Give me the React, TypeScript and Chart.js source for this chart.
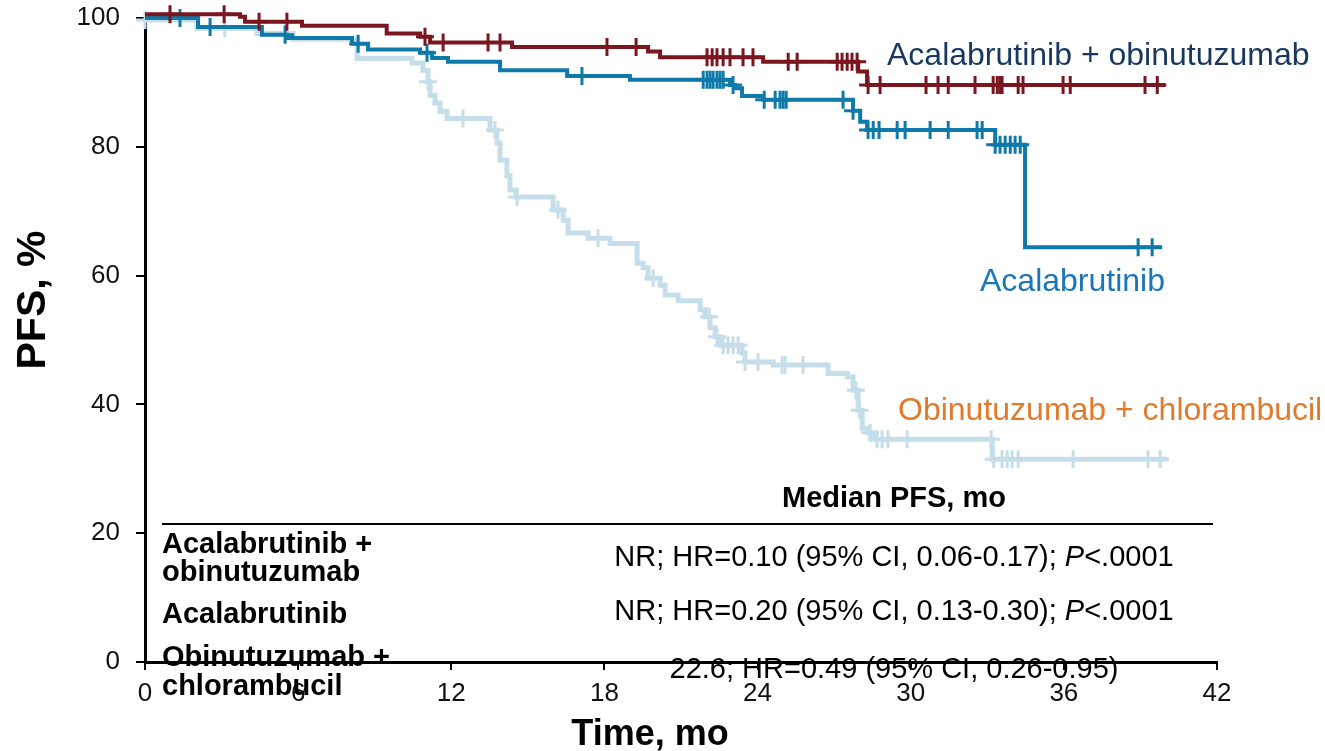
import React, { useEffect, useRef } from 'react';
import { Chart, registerables } from 'chart.js';

Chart.register(...registerables);

const FONT = '"Liberation Sans", Arial, Helvetica, sans-serif';

// Acalabrutinib + obinutuzumab (step times in months, PFS %)
const acoTimes = [0, 3.72, 3.92, 6.15, 9.47, 10.78, 11.17, 14.38, 19.71, 20.18, 24.22, 27.94, 28.29, 39.97];
const acoSurv = [100.6, 100.2, 99.4, 98.8, 97.6, 97.1, 96.2, 95.5, 94.8, 93.9, 93.2, 91.7, 89.6, 89.6];
const acoCensor = [0.98, 3.1, 4.47, 5.56, 10.97, 11.68, 13.44, 13.91, 18.1, 19.24, 22.02, 22.22, 22.41, 22.65, 22.92, 23.43, 23.82, 25.2, 25.55, 27.12, 27.31, 27.51, 27.7, 27.9, 28.33, 28.8, 30.6, 31.07, 31.47, 32.52, 33.23, 33.39, 33.5, 33.58, 34.21, 34.4, 35.97, 36.25, 39.18, 39.66];

// Acalabrutinib
const acaTimes = [0, 2.08, 4.58, 5.56, 8.11, 8.74, 10.78, 11.25, 11.87, 13.91, 16.54, 19.0, 22.92, 23.12, 23.39, 24.22, 27.74, 28.02, 28.29, 33.31, 34.48, 39.85];
const acaSurv = [100, 98.6, 97.4, 96.9, 96.0, 95.1, 94.6, 93.8, 93.2, 91.9, 91.0, 90.4, 89.6, 89.1, 87.9, 87.3, 85.6, 83.9, 82.6, 80.3, 64.4, 64.4];
const acaCensor = [1.37, 2.55, 5.49, 8.35, 11.05, 17.12, 21.87, 22.02, 22.14, 22.26, 22.41, 22.53, 22.65, 23.04, 24.26, 24.69, 24.88, 25.0, 25.12, 27.35, 27.74, 28.33, 28.53, 28.76, 29.47, 29.78, 30.76, 31.47, 32.6, 32.8, 33.31, 33.5, 33.7, 33.9, 34.09, 34.29, 38.91, 39.46];

// Obinutuzumab + chlorambucil
const ocTimes = [0, 2.04, 4.39, 5.8, 8.31, 10.46, 10.89, 11.09, 11.17, 11.36, 11.56, 11.83, 13.52, 13.79, 13.91, 14.18, 14.3, 14.54, 15.99, 16.38, 16.58, 17.36, 18.22, 19.28, 19.51, 19.71, 20.18, 20.38, 20.89, 21.75, 21.94, 22.14, 22.34, 22.53, 23.39, 23.51, 24.61, 26.76, 27.51, 27.74, 27.94, 28.1, 28.33, 28.53, 33.19, 40.05];
const ocSurv = [99.7, 98.4, 97.6, 96.7, 93.7, 93.0, 91.9, 90.1, 88.0, 86.8, 85.5, 84.4, 82.6, 80.6, 77.9, 75.5, 73.3, 72.2, 70.2, 68.6, 66.6, 65.8, 65.0, 61.9, 61.2, 59.6, 58.5, 57.0, 56.1, 54.7, 53.6, 51.9, 50.5, 49.2, 48.0, 46.6, 46.1, 44.8, 44.3, 42.2, 39.1, 36.3, 35.6, 34.6, 31.5, 31.5];
const ocCensor = [0.0, 3.13, 5.49, 11.09, 12.46, 13.71, 14.58, 16.18, 17.75, 19.91, 22.1, 22.41, 22.65, 22.84, 23.04, 23.24, 23.51, 24.02, 24.96, 25.08, 25.78, 27.85, 28.0, 28.41, 28.68, 28.88, 29.11, 29.86, 33.15, 33.25, 33.58, 33.78, 33.97, 34.21, 36.36, 39.3, 39.77];

const xTicks = [0, 6, 12, 18, 24, 30, 36, 42];
const yTicks = [0, 20, 40, 60, 80, 100];

const seriesNames = ['Acalabrutinib + obinutuzumab', 'Acalabrutinib', 'Obinutuzumab + chlorambucil'];
const tableHeader = 'Median PFS, mo';
const tableLeft = [['Acalabrutinib +', 'obinutuzumab'], ['Acalabrutinib'], ['Obinutuzumab +', 'chlorambucil']];
const tableRight = [
  ['NR; HR=0.10 (95% CI, 0.06-0.17); ', 'P', '<.0001'],
  ['NR; HR=0.20 (95% CI, 0.13-0.30); ', 'P', '<.0001'],
  ['22.6; HR=0.49 (95% CI, 0.26-0.95)', '', ''],
];

const RED = '#7b1621';
const BLUE = '#0f7aaa';
const LIGHT = '#c5deea';

function stepValue(times: number[], surv: number[], t: number) {
  let v = surv[0];
  for (let i = 0; i < times.length; i++) {
    if (times[i] <= t + 1e-9) v = surv[i];
    else break;
  }
  return v;
}

function curve(times: number[], surv: number[]) {
  return times.map((t, i) => ({ x: t, y: surv[i] }));
}
function censors(times: number[], surv: number[], c: number[]) {
  return c.map((t) => ({ x: t, y: stepValue(times, surv, t) }));
}

const textPlugin = {
  id: 'kmTexts',
  afterDraw(chart: any) {
    const ctx = chart.ctx as CanvasRenderingContext2D;
    ctx.save();
    ctx.textBaseline = 'alphabetic';

    // Curve labels
    ctx.font = `32px ${FONT}`;
    ctx.textAlign = 'left';
    ctx.fillStyle = '#17375e';
    ctx.fillText(seriesNames[0], 887, 65);
    ctx.fillStyle = '#1a76b6';
    ctx.fillText(seriesNames[1], 980, 291);
    ctx.fillStyle = '#e07a2c';
    ctx.fillText(seriesNames[2], 898, 420);

    // Axis titles
    ctx.fillStyle = '#000';
    ctx.save();
    ctx.translate(45, 300);
    ctx.rotate(-Math.PI / 2);
    ctx.font = `bold 41px ${FONT}`;
    ctx.textAlign = 'center';
    ctx.fillText('PFS, %', 0, 0);
    ctx.restore();

    ctx.font = `bold 36px ${FONT}`;
    ctx.textAlign = 'center';
    ctx.fillText('Time, mo', 650, 745);

    // Table
    ctx.font = `bold 29px ${FONT}`;
    ctx.textAlign = 'center';
    ctx.fillText(tableHeader, 894, 507);

    ctx.strokeStyle = '#000';
    ctx.lineWidth = 2;
    ctx.beginPath();
    ctx.moveTo(162, 524);
    ctx.lineTo(1213, 524);
    ctx.stroke();

    ctx.textAlign = 'left';
    const leftBase = [[553, 581], [623], [666, 695]];
    tableLeft.forEach((lines, i) => {
      lines.forEach((ln, j) => ctx.fillText(ln, 162, leftBase[i][j]));
    });

    const rightBase = [566, 620, 678];
    tableRight.forEach((segs, i) => {
      const fonts = [`29px ${FONT}`, `italic 29px ${FONT}`, `29px ${FONT}`];
      let total = 0;
      const widths = segs.map((s, k) => {
        ctx.font = fonts[k];
        const w = ctx.measureText(s).width;
        total += w;
        return w;
      });
      let x = 894 - total / 2;
      segs.forEach((s, k) => {
        ctx.font = fonts[k];
        ctx.fillText(s, x, rightBase[i]);
        x += widths[k];
      });
    });

    ctx.restore();
  },
};

export default function App() {
  const ref = useRef<HTMLCanvasElement | null>(null);

  useEffect(() => {
    if (!ref.current) return;
    const lineDs = (label: string, data: any[], color: string, width: number, order: number) => ({
      type: 'line',
      label,
      data,
      borderColor: color,
      backgroundColor: color,
      borderWidth: width,
      stepped: 'before',
      pointRadius: 0,
      fill: false,
      clip: false,
      order,
    });
    const censorDs = (label: string, data: any[], color: string, width: number, order: number) => ({
      type: 'line',
      label,
      data,
      showLine: false,
      pointStyle: 'cross',
      pointRadius: 9,
      pointHoverRadius: 9,
      pointBorderWidth: width,
      pointBorderColor: color,
      pointBackgroundColor: color,
      borderColor: color,
      clip: false,
      order,
    });

    const chart = new Chart(ref.current, {
      type: 'line',
      data: {
        datasets: [
          lineDs(seriesNames[2], curve(ocTimes, ocSurv), LIGHT, 5, 6),
          censorDs(seriesNames[2] + ' censored', censors(ocTimes, ocSurv, ocCensor), LIGHT, 3, 5),
          lineDs(seriesNames[1], curve(acaTimes, acaSurv), BLUE, 4, 4),
          censorDs(seriesNames[1] + ' censored', censors(acaTimes, acaSurv, acaCensor), BLUE, 3, 3),
          lineDs(seriesNames[0], curve(acoTimes, acoSurv), RED, 4, 2),
          censorDs(seriesNames[0] + ' censored', censors(acoTimes, acoSurv, acoCensor), RED, 3, 1),
        ] as any,
      },
      options: {
        responsive: false,
        animation: false,
        devicePixelRatio: 1,
        layout: { padding: { top: 18, right: 108, left: 0, bottom: 0 } },
        plugins: {
          legend: { display: false },
          tooltip: { enabled: false },
        },
        scales: {
          x: {
            type: 'linear',
            min: 0,
            max: 42,
            afterFit: (s: any) => {
              s.height = 89;
              s.paddingLeft = 0;
              s.paddingRight = 0;
            },
            afterBuildTicks: (s: any) => {
              s.ticks = xTicks.map((v) => ({ value: v }));
            },
            ticks: {
              font: { family: FONT, size: 26 },
              color: '#111',
              padding: 8,
              maxRotation: 0,
              autoSkip: false,
            },
            grid: {
              display: true,
              drawOnChartArea: false,
              drawTicks: true,
              tickLength: 8,
              color: '#000',
              lineWidth: 2,
            },
            border: { display: true, color: '#000', width: 3 },
          },
          y: {
            type: 'linear',
            min: 0,
            max: 100,
            afterFit: (s: any) => {
              s.width = 145;
              s.paddingTop = 0;
              s.paddingBottom = 0;
            },
            afterBuildTicks: (s: any) => {
              s.ticks = yTicks.map((v) => ({ value: v }));
            },
            ticks: {
              font: { family: FONT, size: 26 },
              color: '#111',
              padding: 16,
              autoSkip: false,
            },
            grid: {
              display: true,
              drawOnChartArea: false,
              drawTicks: true,
              tickLength: 9,
              color: '#000',
              lineWidth: 2,
            },
            border: { display: true, color: '#000', width: 3 },
          },
        },
      } as any,
      plugins: [textPlugin],
    });
    return () => chart.destroy();
  }, []);

  return (
    <div style={{ position: 'fixed', left: 0, top: 0, width: 1325, height: 751, background: '#fff' }}>
      <canvas ref={ref} width={1325} height={751} style={{ display: 'block' }} />
    </div>
  );
}
